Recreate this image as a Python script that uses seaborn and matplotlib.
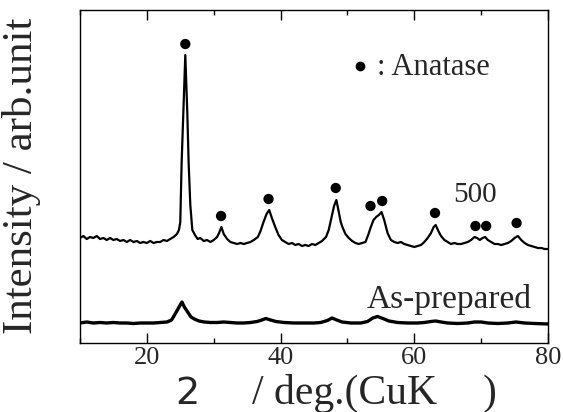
import matplotlib
matplotlib.use('Agg')
import matplotlib.pyplot as plt
from matplotlib.ticker import MultipleLocator
import seaborn as sns

# XRD pattern after calcination at 500 (arb. units)
two_theta_500 = [10.0, 10.5, 11.0, 11.5, 12.0, 12.5, 13.0, 13.5, 14.0, 14.5,
                 15.0, 15.5, 16.0, 16.5, 17.0, 17.5, 18.0, 18.5, 19.0, 19.5,
                 20.0, 20.5, 21.0, 21.5, 22.0, 22.5, 23.0, 23.5, 24.0, 24.5,
                 24.8, 25.0, 25.2, 25.45, 25.75, 26.05, 26.25, 26.5, 26.8, 27.2,
                 27.6, 28.0, 28.5, 29.0, 29.5, 30.0, 30.5, 30.8, 31.15, 31.5,
                 32.0, 32.5, 33.0, 33.5, 34.0, 34.5, 35.0, 35.5, 36.0, 36.6,
                 37.0, 37.4, 37.9, 38.3, 38.7, 39.2, 39.7, 40.2, 40.7, 41.2,
                 41.7, 42.2, 42.7, 43.2, 43.7, 44.2, 44.7, 45.2, 45.7, 46.2,
                 46.8, 47.2, 47.6, 48.0, 48.35, 48.7, 49.0, 49.25, 49.7, 50.2,
                 50.7, 51.2, 51.7, 52.2, 52.7, 53.1, 53.5, 53.9, 54.3, 54.7,
                 55.1, 55.5, 56.0, 56.5, 57.0, 57.5, 58.0, 58.5, 59.0, 59.5,
                 60.0, 60.5, 61.0, 61.5, 62.0, 62.5, 62.9, 63.2, 63.6, 64.0,
                 64.5, 65.0, 65.5, 66.0, 66.5, 67.0, 67.5, 68.0, 68.5, 69.0,
                 69.4, 69.8, 70.2, 70.6, 71.0, 71.5, 72.0, 72.5, 73.0, 73.5,
                 74.0, 74.5, 75.0, 75.5, 76.0, 76.5, 77.0, 77.5, 78.0, 78.5,
                 79.0, 79.5, 80.0]
intensity_500 = [92, 94, 91, 93, 92, 94, 91, 92, 90, 92,
                 90, 91, 89, 90, 88, 90, 88, 89, 87, 88,
                 87, 89, 87, 88, 88, 90, 89, 91, 93, 96,
                 100, 108, 167, 217, 275, 217, 167, 125, 100, 95,
                 91, 92, 89, 90, 88, 90, 93, 97, 103, 96,
                 91, 88, 87, 86, 87, 86, 87, 88, 90, 93,
                 99, 107, 116, 120, 112, 103, 95, 90, 88, 86,
                 87, 85, 86, 84, 85, 84, 86, 85, 87, 89,
                 93, 100, 112, 124, 130, 118, 108, 103, 96, 92,
                 89, 87, 86, 87, 88, 95, 103, 110, 113, 115,
                 118, 110, 97, 90, 88, 87, 88, 86, 85, 84,
                 83, 84, 85, 88, 92, 97, 103, 105, 99, 94,
                 90, 88, 86, 87, 86, 86, 87, 88, 90, 93,
                 92, 90, 92, 93, 90, 88, 86, 86, 85, 86,
                 87, 89, 92, 94, 90, 87, 85, 84, 83, 82,
                 82, 81, 81]

# As-prepared pattern
two_theta_asp = [10, 11, 12, 13, 14, 15, 16, 17, 18, 19,
                 20, 21, 22, 23, 23.7, 24.4, 24.9, 25.25, 25.6, 26.1,
                 26.6, 27.1, 27.8, 28.6, 29.5, 30.5, 31.5, 32.5, 33.5, 34.5,
                 35.5, 36.5, 37.2, 37.8, 38.5, 39.3, 40.5, 42, 43.5, 45,
                 46, 47, 47.7, 48.4, 49.2, 50.5, 52, 53, 53.8, 54.5,
                 55.3, 56.2, 57.5, 59, 60.5, 61.5, 62.5, 63.2, 64, 65,
                 66.5, 68, 69, 70, 71, 72.5, 74, 75.2, 76.5, 78, 80]
intensity_asp = [7, 8, 7, 7.5, 7, 7.5, 7, 7, 6.5, 7,
                 7, 7, 7.5, 8, 10, 18, 24, 28, 23, 18,
                 13, 11, 9, 8, 7.5, 7.5, 8, 7.5, 7, 7,
                 7.5, 8.5, 10, 11.5, 10, 8.5, 7.5, 7, 7, 7,
                 7.5, 9.5, 12, 10, 8, 7, 7, 8.5, 12, 13.5,
                 11.5, 9, 7.5, 7, 7, 7.5, 8.5, 9, 8, 7,
                 6.5, 7, 8, 8, 7, 6.5, 7, 8, 7, 6.5, 6]

# anatase reflections marked with filled circles
anatase_pos = [25.75, 31.1, 38.2, 48.25, 53.45, 55.2, 63.1, 69.15, 70.75, 75.3]
anatase_mark = [286, 114, 131, 142, 124, 129, 117, 104, 104, 107]

sns.set_style('ticks')
plt.rcParams['font.family'] = ['Liberation Serif', 'DejaVu Serif']

fig = plt.figure(figsize=(5.63, 4.12), dpi=100)
ax = fig.add_axes([80 / 563, 1 - 343 / 412, 468 / 563, 333 / 412])

sns.lineplot(x=two_theta_500, y=intensity_500, color='black', lw=1.6, ax=ax)
sns.lineplot(x=two_theta_asp, y=intensity_asp, color='black', lw=2.4, ax=ax)
sns.scatterplot(x=anatase_pos, y=anatase_mark, color='black', s=55,
                edgecolor='none', ax=ax)

# legend-like annotation and sample labels
ax.plot([51.95], [264], 'o', color='black', ms=7, mec='none')
ax.text(54.35, 255, ': Anatase', fontsize=22, va='baseline')
ax.text(65.75, 128, '500', fontsize=21, va='baseline')
ax.text(52.9, 22, 'As-prepared', fontsize=24, va='baseline')

ax.set_xlim(10, 80)
ax.set_ylim(-13, 320)
ax.set_yticks([])
ax.xaxis.set_major_locator(MultipleLocator(20))
ax.xaxis.set_minor_locator(MultipleLocator(10))
ax.tick_params(axis='x', which='both', direction='in', top=True, width=1,
               color='black', labelsize=19, pad=3)
ax.tick_params(axis='x', which='major', length=7)
ax.tick_params(axis='x', which='minor', length=3.6)
for sp in ax.spines.values():
    sp.set_color('black')
    sp.set_linewidth(1.0)

# axis titles (Greek glyphs are blank in the original rendering)
fig.text(175 / 563, 1 - 404 / 412, '2', family='DejaVu Sans', fontsize=27.5,
         va='baseline')
fig.text(252 / 563, 1 - 404 / 412, '/ deg.(CuK', fontsize=30, va='baseline')
fig.text(483 / 563, 1 - 404 / 412, ')', fontsize=30, va='baseline')
fig.text(22 / 563, 1 - 176 / 412, 'Intensity / arb.unit', rotation=90,
         ha='center', va='center', fontsize=31)

fig.savefig('out.png', dpi=100)
